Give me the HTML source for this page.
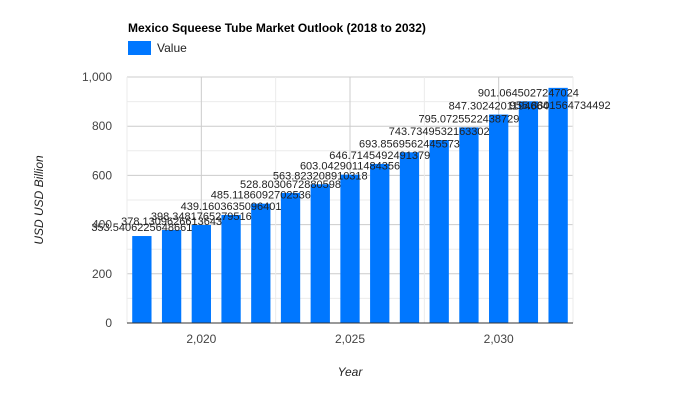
<!DOCTYPE html>
<html><head><meta charset="utf-8"><style>
body{margin:0;background:#fff;font-family:"Liberation Sans",Arial,sans-serif}
</style></head><body>
<svg width="700" height="400" viewBox="0 0 700 400">
<rect width="700" height="400" fill="#fff"/>
<text x="128" y="32" font-size="12" font-weight="bold" fill="#000">Mexico Squeese Tube Market Outlook (2018 to 2032)</text>
<rect x="128" y="41" width="23" height="14" fill="#0077ff"/>
<text x="157" y="52" font-size="12" fill="#222">Value</text>
<g id="grid"></g><g id="bars"></g><g id="labels"></g><g id="axes"></g>
<text transform="translate(43,200) rotate(-90)" text-anchor="middle" font-size="12" font-style="italic" fill="#222">USD USD Billion</text>
<text x="350" y="376" text-anchor="middle" font-size="12" font-style="italic" fill="#222">Year</text>
</svg>
<script>
const years=[2018,2019,2020,2021,2022,2023,2024,2025,2026,2027,2028,2029,2030,2031,2032];
const values=[353.5406225648661,378.1309626613643,398.3481765279516,439.1603635096401,485.1186092702536,528.8030672880598,563.823208910318,603.0429011484356,646.7145492491379,693.8569562445573,743.7349532163302,795.0725522438729,847.3024201194664,901.0645027247024,955.8801564734492];
const yTicks=[0,200,400,600,800,1000];
const xTicks=[2020,2025,2030];
const NS="http://www.w3.org/2000/svg";
const X0=127,X1=573,Y0=323,Y1=77,xmin=2017.5,xmax=2032.5,ymax=1000;
const xs=v=>X0+(v-xmin)/(xmax-xmin)*(X1-X0);
const ys=v=>Y0-v/ymax*(Y0-Y1);
function mk(t,a,p){const e=document.createElementNS(NS,t);for(const k in a)e.setAttribute(k,a[k]);p.appendChild(e);return e;}
const grid=document.getElementById('grid'),bars=document.getElementById('bars'),labels=document.getElementById('labels'),axes=document.getElementById('axes');
for(let v=0;v<=ymax;v+=100){
 const l=mk('line',{x1:X0,x2:X1,y1:ys(v),y2:ys(v),stroke:v%200===0?'#cccccc':'#ebebeb','stroke-width':1},grid);
 
 
}
for(let v=xmin;v<=xmax+0.01;v+=2.5){
 const l=mk('line',{x1:xs(v),x2:xs(v),y1:Y1,y2:Y0,stroke:(v%5===0)?'#cccccc':'#ebebeb','stroke-width':1},grid);
 
 
}
yTicks.forEach(v=>{
 const t=mk('text',{x:X0-15,y:ys(v)+4,'text-anchor':'end','font-size':12,fill:'#444'},axes);t.textContent=v.toLocaleString('en-US');
 
 
});
xTicks.forEach(v=>{
 const t=mk('text',{x:xs(v),y:Y0+20,'text-anchor':'middle','font-size':12,fill:'#444'},axes);t.textContent=v.toLocaleString('en-US');
 
 
});
const bw=19.3;
years.forEach((yr,i)=>{
 const v=values[i],cx=xs(yr);
 const r=mk('rect',{x:cx-bw/2,y:ys(v),width:bw,height:Y0-ys(v),fill:'#0077ff'},bars);
 
 
 const last=i===years.length-1;
 const ty=last?ys(v)+21:ys(v)-5;
 const t=mk('text',{x:cx+(last?2:0),y:ty,'text-anchor':'middle','font-size':11,fill:'#222'},labels);
 t.textContent=String(v);
 
 
});
const ax=mk('line',{x1:X0,x2:X1,y1:Y0,y2:Y0,stroke:'#333','stroke-width':1},axes);


</script>
</body></html>
